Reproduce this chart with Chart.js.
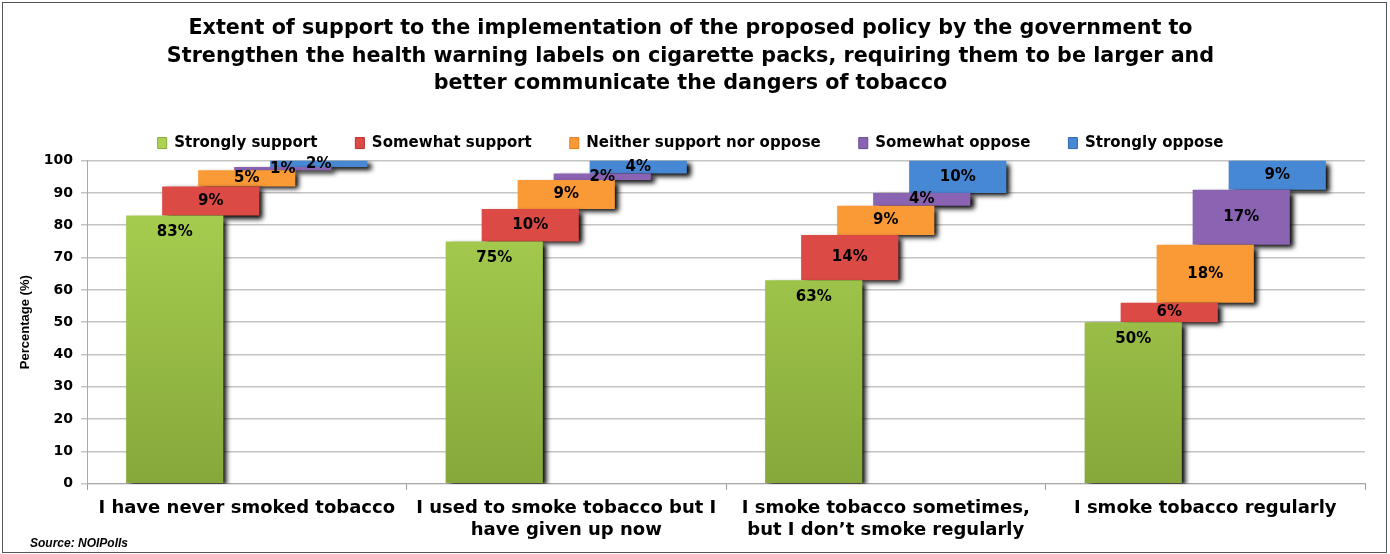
<!DOCTYPE html>
<html>
<head>
<meta charset="utf-8">
<script src="https://cdn.jsdelivr.net/npm/chart.js@4.4.0/dist/chart.umd.min.js"></script>
<style>
html, body { margin: 0; padding: 0; background: #fff; }
#wrap { position: relative; width: 1390px; height: 554px; }
#frame { position: absolute; left: 2px; top: 2px; width: 1385px; height: 551px; border: 1px solid #555; box-sizing: border-box; pointer-events: none; }
#source { position: absolute; left: 30px; top: 536px; font: italic bold 12px "Liberation Sans Narrow", "Liberation Sans", sans-serif; color: #000; }
</style>
</head>
<body>
<div id="wrap">
	<canvas id="SupportChart" width="1390" height="554"></canvas>
	<div id="frame"></div>
	<div id="source">Source: NOIPolls</div>
</div>
<script>
const categories = [
	"I have never smoked tobacco",
	["I used to smoke tobacco but I", "have given up now"],
	["I smoke tobacco sometimes,", "but I don\u2019t smoke regularly"],
	"I smoke tobacco regularly",
]
const seriesNames = ["Strongly support", "Somewhat support", "Neither support nor oppose", "Somewhat oppose", "Strongly oppose"]
const stronglySupport = [83, 75, 63, 50]
const somewhatSupport = [9, 10, 14, 6]
const neitherNor = [5, 9, 9, 18]
const somewhatOppose = [1, 2, 4, 17]
const stronglyOppose = [2, 4, 10, 9]
const seriesTop = ["#acd352", "#dc4a45", "#f99a36", "#8a63b3", "#4788d4"]
const seriesBottom = ["#86a83b", "#b9302e", "#e57d1c", "#6a4893", "#2f68b0"]

const allSeries = [stronglySupport, somewhatSupport, neitherNor, somewhatOppose, stronglyOppose]

const gradientFor = (i) => (context) => {
	const area = context.chart.chartArea
	if (!area) return seriesTop[i]
	const g = context.chart.ctx.createLinearGradient(0, area.top, 0, area.bottom)
	g.addColorStop(0, seriesTop[i])
	g.addColorStop(1, seriesBottom[i])
	return g
}

// each step floats from the running total of the earlier answers
const datasets = allSeries.map((vals, i) => ({
	label: seriesNames[i],
	pct: vals,
	data: vals.map((v, c) => {
		const start = allSeries.slice(0, i).reduce((s, arr) => s + arr[c], 0)
		return [start, start + v]
	}),
	backgroundColor: i === 0 ? gradientFor(0) : seriesTop[i],
	borderWidth: 0,
	categoryPercentage: 0.5634,
	barPercentage: 2.7,
}))

const shadowAndLabels = {
	id: "shadowAndLabels",
	beforeDatasetsDraw(chart) {
		const ctx = chart.ctx
		ctx.save()
		ctx.shadowColor = "rgba(0,0,0,1)"
		ctx.shadowBlur = 5
		ctx.shadowOffsetX = 4
		ctx.shadowOffsetY = 3
	},
	afterDatasetsDraw(chart) {
		const ctx = chart.ctx
		ctx.restore()
		ctx.save()
		ctx.font = "bold 15px 'DejaVu Sans'"
		ctx.fillStyle = "#000"
		ctx.textAlign = "center"
		ctx.textBaseline = "middle"
		chart.data.datasets.forEach((ds, i) => {
			const meta = chart.getDatasetMeta(i)
			meta.data.forEach((bar, c) => {
				const y = i === 0 ? bar.y + 17 : (bar.y + bar.base) / 2
				ctx.fillText(ds.pct[c] + "%", bar.x, y)
			})
		})
		ctx.restore()
	},
}

new Chart(document.getElementById("SupportChart").getContext("2d"), {
	type: "bar",
	data: { labels: categories, datasets },
	plugins: [shadowAndLabels],
	options: {
		responsive: false,
		animation: false,
		layout: { padding: { left: 16, right: 25, top: 0, bottom: 5 } },
		plugins: {
			tooltip: { enabled: false },
			title: {
				display: true,
				text: [
					"Extent of support to the implementation of the proposed policy by the government to",
					"Strengthen the health warning labels on cigarette packs, requiring them to be larger and",
					"better communicate the dangers of tobacco",
				],
				color: "#000",
				font: { family: "'DejaVu Sans'", size: 20.7, weight: "bold", lineHeight: 1.33 },
				padding: { top: 15, bottom: 0 },
			},
			legend: {
				labels: {
					color: "#000",
					boxWidth: 9,
					boxHeight: 11,
					padding: 38,
					font: { family: "'DejaVu Sans'", size: 15, weight: "bold" },
					generateLabels(chart) {
						return chart.data.datasets.map((ds, i) => ({
							text: ds.label,
							fillStyle: seriesTop[i],
							strokeStyle: seriesBottom[i],
							lineWidth: 1,
							fontColor: "#000",
							datasetIndex: i,
						}))
					},
				},
			},
		},
		scales: {
			x: {
				grid: { drawOnChartArea: false, offset: true, tickLength: 6, color: "#999" },
				border: { color: "#aaa" },
				ticks: {
					color: "#000",
					maxRotation: 0,
					autoSkip: false,
					padding: 8,
					font: { family: "'DejaVu Sans'", size: 18, weight: "bold", lineHeight: 1.2 },
				},
			},
			y: {
				min: 0,
				max: 100,
				afterFit(scale) { scale.width = 71 },
				grid: { color: "#c4c4c4", lineWidth: 1.5, tickLength: 6 },
				border: { color: "#aaa" },
				ticks: {
					stepSize: 10,
					color: "#000",
					padding: 8,
					font: { family: "'DejaVu Sans'", size: 14, weight: "bold" },
				},
				title: {
					display: true,
					text: "Percentage (%)",
					color: "#000",
					padding: 2,
					font: { family: "'Liberation Sans Narrow', 'Liberation Sans'", size: 13, weight: "bold" },
				},
			},
		},
	},
})
</script>
</body>
</html>
